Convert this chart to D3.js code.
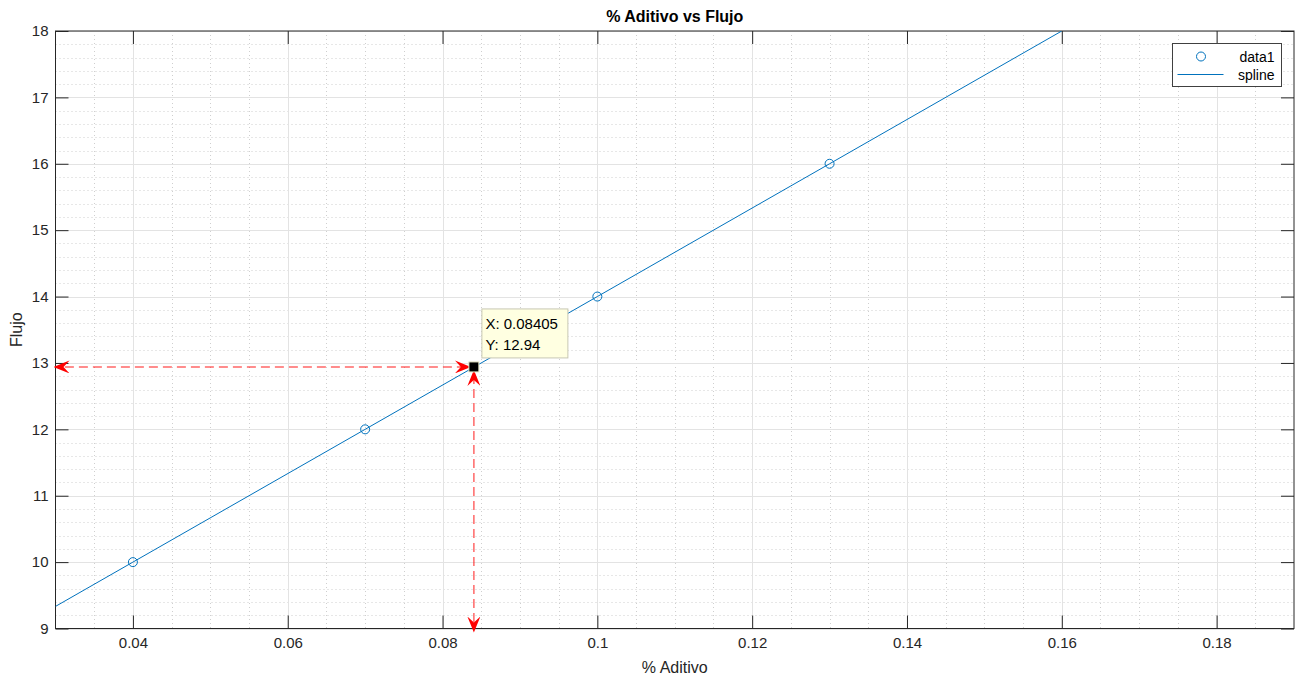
<!DOCTYPE html>
<html>
<head>
<meta charset="utf-8">
<script src="https://cdn.jsdelivr.net/npm/d3@7"></script>
<style>
  body { margin: 0; background: #fff; }
  svg { display: block; font-family: "Liberation Sans", Arial, sans-serif; }
</style>
</head>
<body>
<svg width="1295" height="679"></svg>
<script>
(function() {
	// data
	const dataX = [0.04, 0.07, 0.1, 0.13];
	const dataY = [10, 12, 14, 16];
	const splineX = [0.03, 0.04, 0.07, 0.1, 0.13, 0.16];
	const splineY = [9.333, 10, 12, 14, 16, 18];
	const tipX = 0.08405;
	const tipY = 12.94;
	const xTicks = [0.04, 0.06, 0.08, 0.1, 0.12, 0.14, 0.16, 0.18];
	const yTicks = [9, 10, 11, 12, 13, 14, 15, 16, 17, 18];

	const svg = d3.select('svg');
	const left = 55.5, right = 1294, top = 31, bottom = 628.5;
	const ink = '#262626';
	const blue = '#0072BD';

	const x = d3.scaleLinear().domain([0.03, 0.19]).range([left, right]);
	const y = d3.scaleLinear().domain([9, 18]).range([bottom, top]);

	const defs = svg.append('defs');
	defs.append('clipPath').attr('id', 'clip')
		.append('rect').attr('x', left).attr('y', top)
		.attr('width', right - left).attr('height', bottom - top);

	// arrow head (MATLAB vback2 style)
	defs.append('marker')
		.attr('id', 'head')
		.attr('viewBox', '0 0 16 13')
		.attr('refX', 16).attr('refY', 6.5)
		.attr('markerWidth', 16).attr('markerHeight', 13)
		.attr('markerUnits', 'userSpaceOnUse')
		.attr('orient', 'auto')
		.append('path')
		.attr('d', 'M0,0 L16,6.5 L0,13 L6,6.5 Z')
		.attr('fill', '#ff0000');

	// minor grid
	const xMinor = d3.range(0.035, 0.19, 0.005).filter(v => Math.abs(Math.round(v * 50) - v * 50) > 1e-6);
	const yMinor = d3.range(9.2, 18, 0.2).filter(v => Math.abs(Math.round(v) - v) > 1e-6);
	const grid = svg.append('g');
	grid.selectAll('.xm').data(xMinor).join('line')
		.attr('x1', d => Math.round(x(d)) + 0.5).attr('x2', d => Math.round(x(d)) + 0.5)
		.attr('y1', top).attr('y2', bottom)
		.attr('stroke', '#cfcfcf').attr('stroke-dasharray', '1,3');
	grid.selectAll('.ym').data(yMinor).join('line')
		.attr('y1', d => Math.round(y(d)) + 0.5).attr('y2', d => Math.round(y(d)) + 0.5)
		.attr('x1', left).attr('x2', right)
		.attr('stroke', '#cfcfcf').attr('stroke-dasharray', '1,3');

	// major grid
	grid.selectAll('.xg').data(xTicks).join('line')
		.attr('x1', d => Math.round(x(d)) + 0.5).attr('x2', d => Math.round(x(d)) + 0.5)
		.attr('y1', top).attr('y2', bottom)
		.attr('stroke', '#e3e3e3');
	grid.selectAll('.yg').data(yTicks).join('line')
		.attr('y1', d => Math.round(y(d)) + 0.5).attr('y2', d => Math.round(y(d)) + 0.5)
		.attr('x1', left).attr('x2', right)
		.attr('stroke', '#e3e3e3');

	// axes (ticks inside, box)
	const tickLen = 13;
	const fmtX = d => d3.format('')(+d.toFixed(2));
	const axisB = svg.append('g').attr('transform', `translate(0,${bottom})`)
		.call(d3.axisBottom(x).tickValues(xTicks).tickSizeInner(-tickLen).tickSizeOuter(0).tickPadding(9).tickFormat(fmtX));
	const axisT = svg.append('g').attr('transform', `translate(0,${top})`)
		.call(d3.axisTop(x).tickValues(xTicks).tickSizeInner(-tickLen).tickSizeOuter(0).tickFormat(''));
	const axisL = svg.append('g').attr('transform', `translate(${left},0)`)
		.call(d3.axisLeft(y).tickValues(yTicks).tickSizeInner(-tickLen).tickSizeOuter(0).tickPadding(7));
	const axisR = svg.append('g').attr('transform', `translate(${right},0)`)
		.call(d3.axisRight(y).tickValues(yTicks).tickSizeInner(-tickLen).tickSizeOuter(0).tickFormat(''));
	[axisB, axisT, axisL, axisR].forEach(a => {
		a.select('.domain').remove();
		a.selectAll('line').attr('stroke', ink);
		a.selectAll('text').attr('fill', ink).attr('font-size', 15)
			.attr('font-family', '"Liberation Sans", Arial, sans-serif');
	});
	svg.append('rect')
		.attr('x', left).attr('y', top)
		.attr('width', right - left).attr('height', bottom - top)
		.attr('fill', 'none').attr('stroke', ink);

	// spline
	const plot = svg.append('g').attr('clip-path', 'url(#clip)');
	plot.append('path')
		.datum(d3.zip(splineX, splineY))
		.attr('d', d3.line().x(d => x(d[0])).y(d => y(d[1])))
		.attr('fill', 'none').attr('stroke', blue).attr('stroke-width', 1);

	// data markers
	plot.selectAll('circle.pt').data(d3.zip(dataX, dataY)).join('circle')
		.attr('class', 'pt')
		.attr('cx', d => x(d[0])).attr('cy', d => y(d[1]))
		.attr('r', 4.5)
		.attr('fill', 'none').attr('stroke', blue).attr('stroke-width', 1);

	// dashed double arrows
	const px = x(tipX), py = y(tipY);
	svg.append('line')
		.attr('x1', px - 8).attr('y1', py).attr('x2', left + 8).attr('y2', py)
		.attr('stroke', '#ff0000').attr('stroke-opacity', 0.6).attr('stroke-width', 1.5)
		.attr('stroke-dasharray', '9,5');
	svg.append('line')
		.attr('x1', px).attr('y1', py + 8).attr('x2', px).attr('y2', bottom - 6)
		.attr('stroke', '#ff0000').attr('stroke-opacity', 0.6).attr('stroke-width', 1.5)
		.attr('stroke-dasharray', '9,5');
	// arrow heads
	const heads = [
		[px - 20, py, px - 3, py],
		[left + 18, py, left - 2, py],
		[px, py + 22, px, py + 3],
		[px, bottom - 20, px, bottom + 4]
	];
	svg.selectAll('line.head').data(heads).join('line')
		.attr('class', 'head')
		.attr('x1', d => d[0]).attr('y1', d => d[1]).attr('x2', d => d[2]).attr('y2', d => d[3])
		.attr('stroke', 'none')
		.attr('marker-end', 'url(#head)');

	// datatip
	svg.append('rect')
		.attr('x', px - 5).attr('y', py - 5).attr('width', 10).attr('height', 10)
		.attr('fill', '#000').attr('stroke', '#e8e8c8').attr('stroke-width', 1);
	const tip = svg.append('g').attr('transform', `translate(${px + 7.5},${py - 58.5})`);
	tip.append('rect')
		.attr('x', 0.5).attr('y', 0.5).attr('width', 86).attr('height', 49)
		.attr('fill', '#ffffe1').attr('stroke', '#c8c8b4');
	tip.append('text').attr('x', 4).attr('y', 21).attr('font-size', 15).attr('fill', '#000')
		.text('X: ' + tipX);
	tip.append('text').attr('x', 4).attr('y', 42).attr('font-size', 15).attr('fill', '#000')
		.text('Y: ' + tipY);

	// legend
	const lg = svg.append('g').attr('transform', 'translate(1172.5,43.5)');
	lg.append('rect').attr('width', 109).attr('height', 43)
		.attr('fill', '#fff').attr('stroke', '#404040');
	lg.append('circle').attr('cx', 28.5).attr('cy', 13).attr('r', 4.5)
		.attr('fill', 'none').attr('stroke', blue);
	lg.append('line').attr('x1', 5).attr('x2', 51).attr('y1', 31).attr('y2', 31)
		.attr('stroke', blue);
	lg.append('text').attr('x', 102).attr('y', 18).attr('text-anchor', 'end')
		.attr('font-size', 14).attr('fill', '#000').text('data1');
	lg.append('text').attr('x', 102).attr('y', 36.5).attr('text-anchor', 'end')
		.attr('font-size', 14).attr('fill', '#000').text('spline');

	// title and labels
	svg.append('text').attr('x', (left + right) / 2).attr('y', 22)
		.attr('text-anchor', 'middle').attr('font-weight', 'bold').attr('font-size', 16)
		.attr('fill', '#000').text('% Aditivo vs Flujo');
	svg.append('text').attr('x', (left + right) / 2).attr('y', 673)
		.attr('text-anchor', 'middle').attr('font-size', 16)
		.attr('fill', ink).text('% Aditivo');
	svg.append('text')
		.attr('transform', `translate(22,${(top + bottom) / 2}) rotate(-90)`)
		.attr('text-anchor', 'middle').attr('font-size', 16)
		.attr('fill', ink).text('Flujo');
})();
</script>
</body>
</html>
